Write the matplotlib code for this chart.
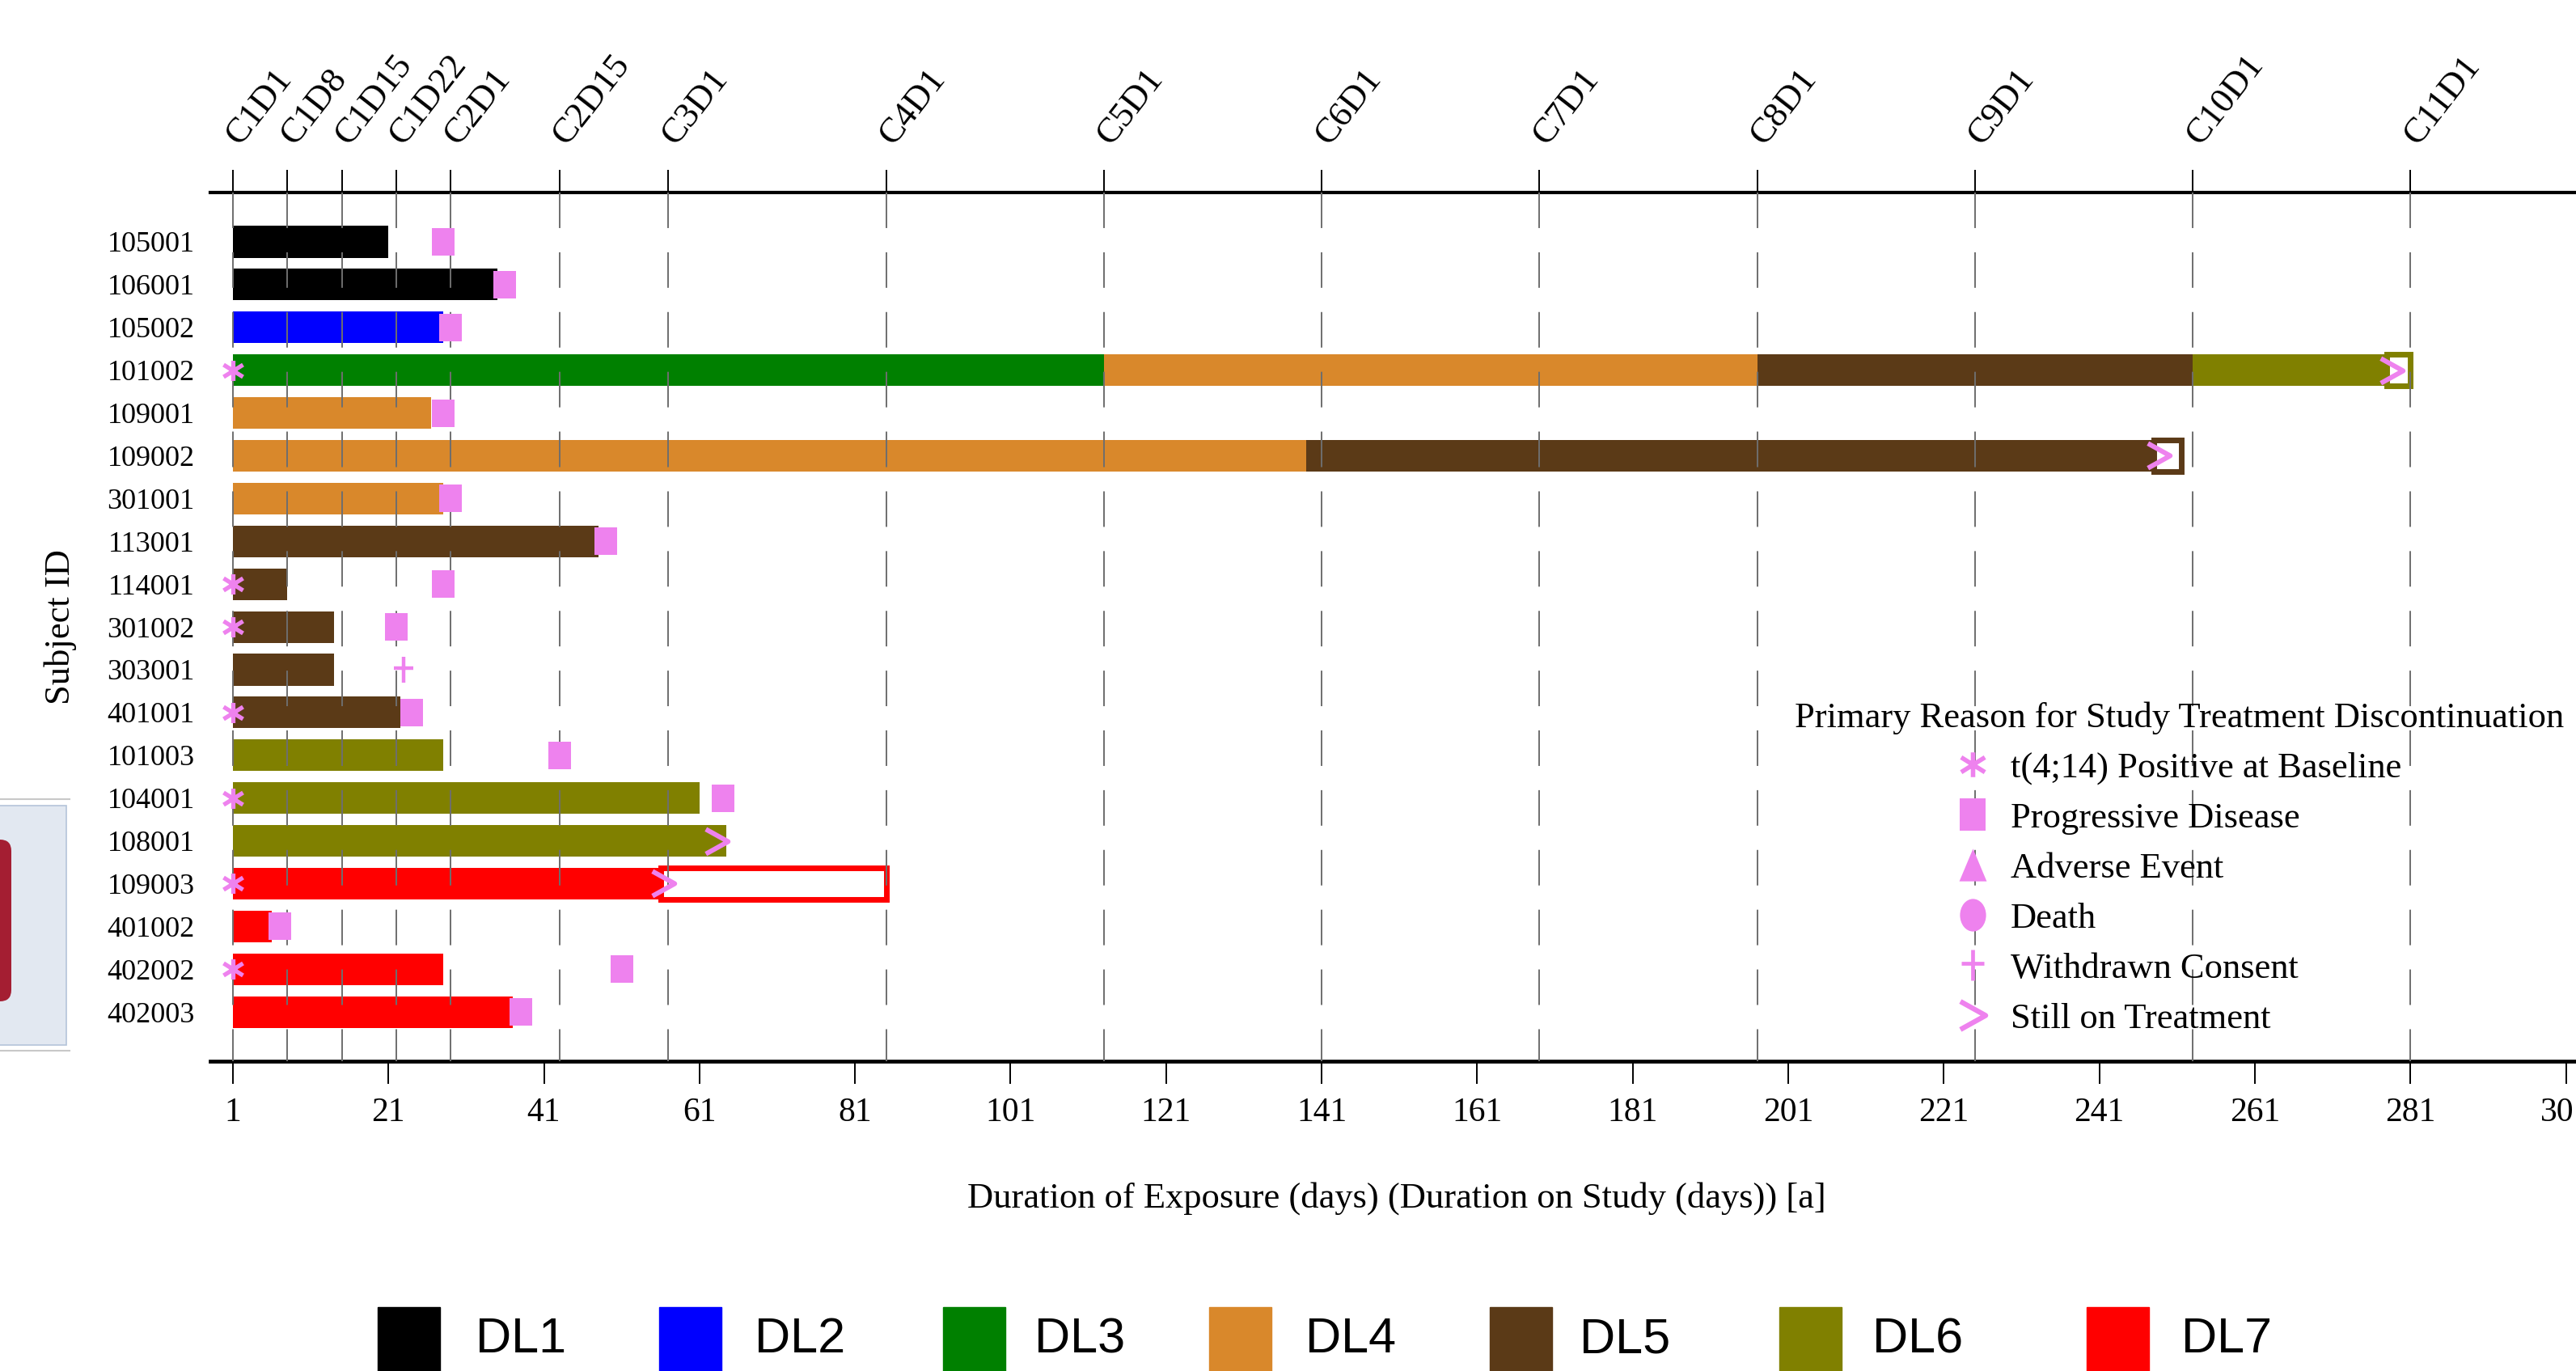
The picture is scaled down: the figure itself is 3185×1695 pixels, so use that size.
import numpy as np
import matplotlib.pyplot as plt
from matplotlib.path import Path
from matplotlib.lines import Line2D
from matplotlib.patches import Rectangle, FancyBboxPatch
from matplotlib.transforms import Affine2D, IdentityTransform

subjects = ['105001', '106001', '105002', '101002', '109001', '109002', '301001',
            '113001', '114001', '301002', '303001', '401001', '101003', '104001',
            '108001', '109003', '401002', '402002', '402003']

# dosing segments, one per dose level a subject received
seg_subject = ['105001', '106001', '105002',
               '101002', '101002', '101002', '101002',
               '109001', '109002', '109002', '301001',
               '113001', '114001', '301002', '303001', '401001',
               '101003', '104001', '108001',
               '109003', '401002', '402002', '402003']
seg_level = ['DL1', 'DL1', 'DL2',
             'DL3', 'DL4', 'DL5', 'DL6',
             'DL4', 'DL4', 'DL5', 'DL4',
             'DL5', 'DL5', 'DL5', 'DL5', 'DL5',
             'DL6', 'DL6', 'DL6',
             'DL7', 'DL7', 'DL7', 'DL7']
seg_start = [1, 1, 1,
             1, 113, 197, 253,
             1, 1, 139, 1,
             1, 1, 1, 1, 1,
             1, 1, 1,
             1, 1, 1, 1]
seg_end = [21, 35, 28,
           113, 197, 253, 278,
           26.5, 139, 248, 28,
           48, 8, 14, 14, 22.5,
           28, 61, 64.5,
           56, 6, 28, 37]

# time on study after the last dose (open boxes)
study_subject = ['101002', '109002', '109003']
study_level = ['DL6', 'DL5', 'DL7']
study_start = [278, 248, 56]
study_end = [281, 251.5, 85]

# discontinuation / status symbols
t414_subject = ['101002', '114001', '301002', '401001', '104001', '109003', '402002']
t414_day = [1, 1, 1, 1, 1, 1, 1]
pd_subject = ['105001', '106001', '105002', '109001', '301001', '113001', '114001',
              '301002', '401001', '101003', '104001', '401002', '402002', '402003']
pd_day = [28, 36, 29, 28, 29, 49, 28, 22, 24, 43, 64, 7, 51, 38]
wc_subject = ['303001']
wc_day = [23]
ongoing_subject = ['101002', '109002', '108001', '109003']
ongoing_day = [278.6, 248.6, 63.2, 56.3]

cycle_days = [1, 8, 15, 22, 29, 43, 57, 85, 113, 141, 169, 197, 225, 253, 281]
cycle_labels = ['C1D1', 'C1D8', 'C1D15', 'C1D22', 'C2D1', 'C2D15', 'C3D1', 'C4D1',
                'C5D1', 'C6D1', 'C7D1', 'C8D1', 'C9D1', 'C10D1', 'C11D1']
day_ticks = list(range(1, 302, 20))

dl_names = ['DL1', 'DL2', 'DL3', 'DL4', 'DL5', 'DL6', 'DL7']
dl_colors = ['#000000', '#0000FF', '#008000', '#D9882B', '#5B3A17', '#808000', '#FF0000']
dl_color = dict(zip(dl_names, dl_colors))

reason_labels = ['t(4;14) Positive at Baseline', 'Progressive Disease', 'Adverse Event',
                 'Death', 'Withdrawn Consent', 'Still on Treatment']

pink = '#EE82EE'
W, H = 3185, 1695

plt.rcParams['font.family'] = ['Liberation Serif', 'DejaVu Serif']

# marker shapes
M, L = Path.MOVETO, Path.LINETO
star_mk = Path([(0, -0.5), (0, 0.5), (-0.48, -0.3), (0.48, 0.3), (-0.48, 0.3), (0.48, -0.3)],
               [M, L, M, L, M, L])
box_mk = Path([(-0.4, -0.5), (0.4, -0.5), (0.4, 0.5), (-0.4, 0.5), (-0.4, -0.5)], closed=True)
tri_mk = Path([(-0.42, -0.5), (0.42, -0.5), (0, 0.5), (-0.42, -0.5)], closed=True)
ell_mk = Path.unit_circle().transformed(Affine2D().scale(0.8, 1.0))
plus_mk = Path([(0, -0.5), (0, 0.5), (-0.38, 0.05), (0.38, 0.05)], [M, L, M, L])
chev_mk = Path([(-0.45, 0.5), (0.45, 0), (-0.45, -0.5)], [M, L, L])

fig = plt.figure(figsize=(W / 100, H / 100), dpi=100)
ax = fig.add_axes([260 / W, 1 - 1312 / H, (W - 260) / W, (1312 - 238) / H])

row = {s: i for i, s in enumerate(subjects)}
bar_h = 0.74

for s, lvl, a, b in zip(seg_subject, seg_level, seg_start, seg_end):
    ax.barh(row[s], b - a, left=a, height=bar_h, color=dl_color[lvl], linewidth=0, zorder=2)

for s, lvl, a, b in zip(study_subject, study_level, study_start, study_end):
    ax.barh(row[s], b - a, left=a, height=bar_h, facecolor='white',
            edgecolor=dl_color[lvl], linewidth=5, zorder=2)

# dashed reference lines at each visit day
for d in cycle_days:
    ax.plot([d, d], [1, 0], transform=ax.get_xaxis_transform(), color='#6E6E6E',
            lw=1.4, ls=(0, (22.6, 15.4)), zorder=3, clip_on=False)

ax.plot(t414_day, [row[s] for s in t414_subject], ls='none', marker=star_mk, ms=18,
        mec=pink, mew=3.8, zorder=5, clip_on=False)
ax.plot(pd_day, [row[s] for s in pd_subject], ls='none', marker=box_mk, ms=25,
        mfc=pink, mew=0, zorder=5, clip_on=False)
ax.plot(wc_day, [row[s] for s in wc_subject], ls='none', marker=plus_mk, ms=23,
        mec=pink, mew=3.2, zorder=5, clip_on=False)
ax.plot(ongoing_day, [row[s] for s in ongoing_subject], ls='none', marker=chev_mk, ms=22,
        mec=pink, mfc='none', mew=4.3, zorder=5, clip_on=False)

ax.set_xlim(-1.9, 302.3)
ax.set_ylim(19.15, -1.153)
ax.set_yticks(range(len(subjects)), labels=subjects)
ax.tick_params(axis='y', length=0, pad=14, labelsize=26)
ax.set_xticks(day_ticks)
ax.tick_params(axis='x', direction='out', length=20, width=1.4, pad=12, labelsize=30)
for side in ['left', 'right', 'top']:
    ax.spines[side].set_visible(False)
ax.spines['bottom'].set_linewidth(3.4)

top = ax.secondary_xaxis('top')
top.set_xticks(cycle_days, labels=cycle_labels)
top.tick_params(direction='out', length=20, width=1.4, pad=26, labelsize=32)
top.spines['top'].set_linewidth(3.0)
plt.setp(top.get_xticklabels(), rotation=52, ha='left', va='center', rotation_mode='anchor')

ax.set_xlabel('Duration of Exposure (days) (Duration on Study (days)) [a]', fontsize=32, va='center')
ax.xaxis.set_label_coords(0.5015, -0.1575)
ax.set_ylabel('Subject ID', fontsize=32, va='center')
ax.yaxis.set_label_coords(-0.0632, 0.5)

handles = [
    Line2D([], [], ls='none', marker=star_mk, ms=22, mec=pink, mew=4),
    Line2D([], [], ls='none', marker=box_mk, ms=29, mfc=pink, mew=0),
    Line2D([], [], ls='none', marker=tri_mk, ms=29, mfc=pink, mew=0),
    Line2D([], [], ls='none', marker=ell_mk, ms=29, mfc=pink, mew=0),
    Line2D([], [], ls='none', marker=plus_mk, ms=27, mec=pink, mew=3.4),
    Line2D([], [], ls='none', marker=chev_mk, ms=25, mec=pink, mfc='none', mew=4.5),
]
ax.legend(handles, reason_labels, loc='upper center',
          bbox_to_anchor=(2695 / W, 1 - 845 / H), bbox_transform=fig.transFigure,
          frameon=False, title='Primary Reason for Study Treatment Discontinuation',
          title_fontsize=32, fontsize=32, borderpad=0, labelspacing=0.49,
          handlelength=0.8, handletextpad=0.65)

# dose level key along the bottom
key_rect_x = [467, 815, 1166, 1495, 1842, 2200, 2580]
key_text_x = [588, 933, 1279, 1614, 1953, 2315, 2697]
for name, rx, tx in zip(dl_names, key_rect_x, key_text_x):
    fig.add_artist(Rectangle((rx, -10), 77, H - 1616 + 10, color=dl_color[name],
                             transform=IdentityTransform()))
    fig.text(tx / W, 1 - 1657 / H, name, fontsize=44, family='Liberation Sans', va='center')

# slide fragment at the left edge
fig.add_artist(Line2D([0, 86], [H - 988, H - 988], color='#C8C8C8', lw=1.5,
                      transform=IdentityTransform()))
fig.add_artist(Line2D([0, 86], [H - 1299, H - 1299], color='#C8C8C8', lw=1.5,
                      transform=IdentityTransform()))
fig.add_artist(Rectangle((-5, H - 1292), 87, 296, facecolor='#E2E8F1', edgecolor='#B4C4D9',
                         lw=1.2, transform=IdentityTransform()))
fig.add_artist(FancyBboxPatch((-60, H - 1238), 74, 200, boxstyle='round,pad=0,rounding_size=14',
                              facecolor='#A41E32', edgecolor='none', transform=IdentityTransform()))

fig.savefig('out.png', dpi=100)
